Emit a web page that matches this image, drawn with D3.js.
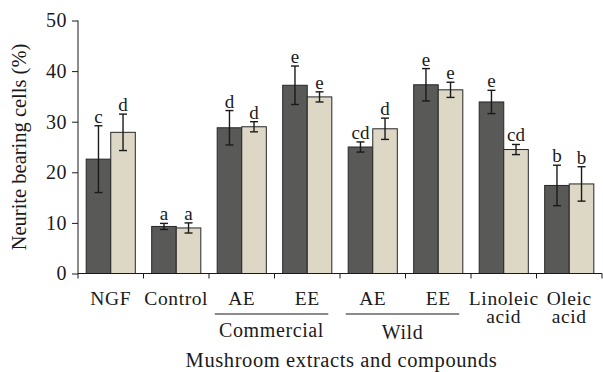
<!DOCTYPE html>
<html>
<head>
<meta charset="utf-8">
<script src="https://cdn.jsdelivr.net/npm/d3@7"></script>
<style>
  body { margin: 0; background: #fff; }
  #chart { width: 603px; height: 372px; }
</style>
</head>
<body>
<div id="chart"></div>
<script>
// data
const categoryLabels = [["NGF"], ["Control"], ["AE"], ["EE"], ["AE"], ["EE"], ["Linoleic", "acid"], ["Oleic", "acid"]]
const darkValues = [22.6, 9.3, 28.8, 37.2, 25.0, 37.3, 33.9, 17.4]
const darkErrors = [6.6, 0.6, 3.4, 3.8, 1.0, 3.2, 2.3, 4.0]
const lightValues = [27.9, 9.0, 29.0, 34.9, 28.6, 36.3, 24.5, 17.7]
const lightErrors = [3.6, 1.0, 1.0, 1.0, 2.1, 1.5, 1.0, 3.4]
const darkLetters = ["c", "a", "d", "e", "cd", "e", "e", "b"]
const lightLetters = ["d", "a", "d", "e", "d", "e", "cd", "b"]
const groupNames = ["Commercial", "Wild"]
const groupStart = [2, 4]
const groupEnd = [3, 5]
const yTicks = [0, 10, 20, 30, 40, 50]

const FONT = "'Liberation Serif', 'DejaVu Serif', serif"
const INK = "#1a1a1a"

const dimensions = {
  width: 603,
  height: 372,
  margin: { top: 20.5, right: 1, bottom: 98.5, left: 78 }
}
dimensions.ctrWidth = dimensions.width - dimensions.margin.left - dimensions.margin.right
dimensions.ctrHeight = dimensions.height - dimensions.margin.top - dimensions.margin.bottom

const svg = d3.select("#chart")
  .append("svg")
  .attr("width", dimensions.width)
  .attr("height", dimensions.height)
  .attr("font-family", FONT)

const ctr = svg.append("g")
  .attr("transform", `translate(${dimensions.margin.left}, ${dimensions.margin.top})`)

// scales
const idx = d3.range(categoryLabels.length)
const xScale = d3.scaleBand()
  .domain(idx)
  .range([0, dimensions.ctrWidth])
  .paddingInner(0.25)
  .paddingOuter(0.125)

const subScale = d3.scaleBand()
  .domain(["dark", "light"])
  .range([0, xScale.bandwidth()])

const yScale = d3.scaleLinear()
  .domain([0, 50])
  .range([dimensions.ctrHeight, 0])

const series = [
  { key: "dark", values: darkValues, errors: darkErrors, letters: darkLetters, fill: "#595958" },
  { key: "light", values: lightValues, errors: lightErrors, letters: lightLetters, fill: "#dcd8c5" }
]

const rows = []
series.forEach(s => {
  idx.forEach(i => rows.push({ i, key: s.key, v: s.values[i], e: s.errors[i], letter: s.letters[i], fill: s.fill }))
})

const barX = d => xScale(d.i) + subScale(d.key)
const barMid = d => barX(d) + subScale.bandwidth() / 2

// bars
ctr.selectAll("rect.bar")
  .data(rows)
  .join("rect")
  .attr("class", "bar")
  .attr("x", barX)
  .attr("y", d => yScale(d.v))
  .attr("width", subScale.bandwidth())
  .attr("height", d => dimensions.ctrHeight - yScale(d.v))
  .attr("fill", d => d.fill)
  .attr("stroke", "#262626")
  .attr("stroke-width", 1)

// error bars
const err = ctr.selectAll("g.err")
  .data(rows)
  .join("g")
  .attr("class", "err")
  .attr("stroke", INK)
  .attr("stroke-width", 1.4)

err.append("line")
  .attr("x1", barMid).attr("x2", barMid)
  .attr("y1", d => yScale(d.v + d.e))
  .attr("y2", d => yScale(d.v - d.e))
err.append("line")
  .attr("x1", d => barMid(d) - 4).attr("x2", d => barMid(d) + 4)
  .attr("y1", d => yScale(d.v + d.e)).attr("y2", d => yScale(d.v + d.e))
err.append("line")
  .attr("x1", d => barMid(d) - 4).attr("x2", d => barMid(d) + 4)
  .attr("y1", d => yScale(d.v - d.e)).attr("y2", d => yScale(d.v - d.e))

// significance letters
ctr.selectAll("text.letter")
  .data(rows)
  .join("text")
  .attr("class", "letter")
  .attr("x", barMid)
  .attr("y", d => yScale(d.v + d.e) - 3)
  .attr("text-anchor", "middle")
  .attr("fill", INK)
  .style("font-size", "19px")
  .text(d => d.letter)

// axes
const yAxis = d3.axisLeft(yScale)
  .tickValues(yTicks)
  .tickSize(6)
  .tickPadding(5)

const yAxisGroup = ctr.append("g")
  .call(yAxis)
  .attr("font-family", FONT)
yAxisGroup.select(".domain").attr("d", `M0,0V${dimensions.ctrHeight}`)
yAxisGroup.selectAll("text").style("font-size", "20px").style("letter-spacing", "0.5px").attr("fill", INK)
yAxisGroup.selectAll("line, path").attr("stroke", INK)

const xAxisGroup = ctr.append("g")
  .attr("transform", `translate(0, ${dimensions.ctrHeight})`)
xAxisGroup.append("line")
  .attr("x1", 0).attr("x2", dimensions.ctrWidth)
  .attr("stroke", INK)
const step = xScale.step()
xAxisGroup.selectAll("line.tick")
  .data(d3.range(categoryLabels.length + 1))
  .join("line")
  .attr("class", "tick")
  .attr("x1", d => d * step).attr("x2", d => d * step)
  .attr("y1", 0).attr("y2", 5)
  .attr("stroke", INK)

// category labels (multi-line ones split into separate text rows)
const catRows = []
idx.forEach(i => categoryLabels[i].forEach((t, j) => catRows.push({ i, j, t })))
xAxisGroup.selectAll("text.cat")
  .data(catRows)
  .join("text")
  .attr("class", "cat")
  .attr("text-anchor", "middle")
  .attr("x", d => xScale(d.i) + xScale.bandwidth() / 2)
  .attr("y", d => 31 + d.j * 18.5)
  .attr("fill", INK)
  .style("font-size", "19.5px")
  .style("letter-spacing", "0.6px")
  .text(d => d.t)

// group brackets
const groups = xAxisGroup.selectAll("g.group")
  .data(d3.range(groupNames.length))
  .join("g")
  .attr("class", "group")
const gx0 = g => xScale(groupStart[g]) + xScale.bandwidth() / 2 - 27
const gx1 = g => xScale(groupEnd[g]) + xScale.bandwidth() / 2 + 21
groups.append("line")
  .attr("x1", gx0).attr("x2", gx1)
  .attr("y1", 40.5).attr("y2", 40.5)
  .attr("stroke", INK)
  .attr("stroke-width", 1.2)
groups.append("text")
  .attr("x", g => (gx0(g) + gx1(g)) / 2)
  .attr("y", g => g === 0 ? 63 : 65)
  .attr("text-anchor", "middle")
  .attr("fill", INK)
  .style("font-size", "20px")
  .style("letter-spacing", "0.6px")
  .text(g => groupNames[g])

// axis titles
xAxisGroup.append("text")
  .attr("x", (dimensions.width / 2) - dimensions.margin.left + 40)
  .attr("y", 93)
  .attr("text-anchor", "middle")
  .attr("fill", INK)
  .style("font-size", "20.5px")
  .style("letter-spacing", "0.6px")
  .text("Mushroom extracts and compounds")

svg.append("text")
  .attr("transform", `translate(26, 147) rotate(-90)`)
  .attr("text-anchor", "middle")
  .attr("fill", INK)
  .style("font-size", "20.5px")
  .text("Neurite bearing cells (%)")
</script>
</body>
</html>
